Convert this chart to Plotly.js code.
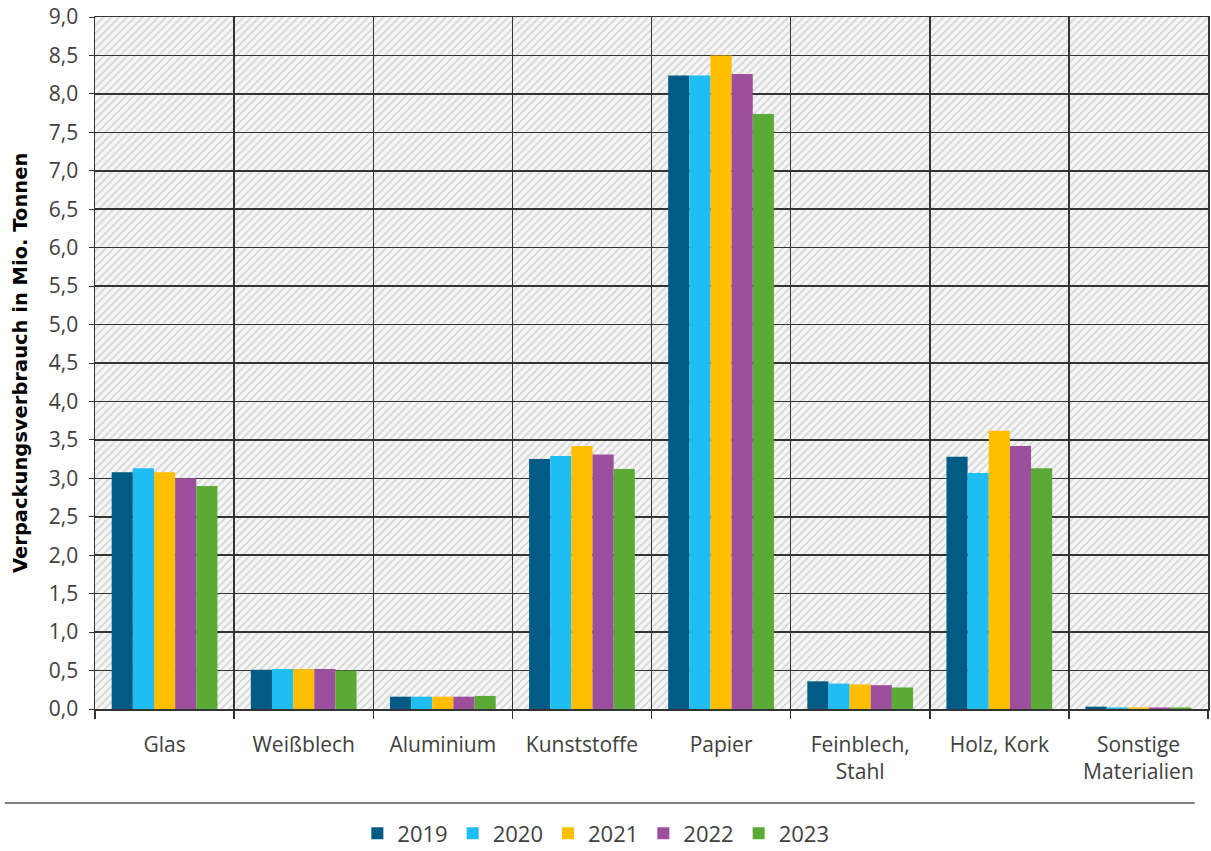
<!DOCTYPE html>
<html>
<head>
<meta charset="utf-8">
<script src="https://cdn.plot.ly/plotly-3.0.1.min.js"></script>
<style>
html,body{margin:0;padding:0;background:#fff;}
#chart{width:1211px;height:851px;}
</style>
</head>
<body>
<div id="chart"></div>
<script>
const categories = ["Glas", "Weißblech", "Aluminium", "Kunststoffe", "Papier", "Feinblech,<br>Stahl", "Holz, Kork", "Sonstige<br>Materialien"];
const years = ["2019", "2020", "2021", "2022", "2023"];
const v2019 = [3.08, 0.51, 0.16, 3.25, 8.24, 0.36, 3.28, 0.03];
const v2020 = [3.13, 0.52, 0.16, 3.29, 8.24, 0.33, 3.07, 0.02];
const v2021 = [3.08, 0.52, 0.16, 3.42, 8.50, 0.32, 3.62, 0.02];
const v2022 = [3.00, 0.52, 0.16, 3.31, 8.26, 0.31, 3.42, 0.02];
const v2023 = [2.90, 0.50, 0.17, 3.12, 7.74, 0.28, 3.13, 0.02];
const series = [v2019, v2020, v2021, v2022, v2023];
const colors = ["#015b84", "#1ebef2", "#ffbf00", "#9c4f9d", "#5aaa35"];
const yTitle = "Verpackungsverbrauch in Mio. Tonnen";

const M = {l: 95, r: 3, t: 17, b: 142, autoexpand: false};
const PW = 1211 - M.l - M.r, PH = 851 - M.t - M.b;

const hatchSvg = `<svg xmlns="http://www.w3.org/2000/svg" width="${PW}" height="${PH}">
<defs><pattern id="h" width="5.5" height="5.5" patternUnits="userSpaceOnUse" patternTransform="rotate(45)">
<rect width="5.5" height="5.5" fill="#f5f5f5"/><rect width="1.6" height="5.5" fill="#d4d4d4"/></pattern></defs>
<rect width="${PW}" height="${PH}" fill="url(#h)"/></svg>`;
const hatchUri = "data:image/svg+xml;base64," + btoa(hatchSvg);

const font = "'Open Sans', sans-serif";

const traces = years.map((y, i) => ({
  type: "bar",
  name: y,
  x: categories,
  y: series[i],
  marker: {color: colors[i], line: {width: 0}},
  hoverinfo: "x+y+name"
}));

const layout = {
  width: 1211, height: 851,
  margin: M,
  paper_bgcolor: "#ffffff",
  plot_bgcolor: "rgba(0,0,0,0)",
  separators: ",.",
  barmode: "group",
  bargap: 0.24,
  bargroupgap: 0,
  font: {family: font, size: 21, color: "#404040"},
  images: [{
    source: hatchUri, xref: "paper", yref: "paper",
    x: 0, y: 1, sizex: 1, sizey: 1, sizing: "stretch",
    xanchor: "left", yanchor: "top", layer: "below"
  }],
  xaxis: {
    type: "category",
    tickson: "boundaries",
    showgrid: true, gridcolor: "#333333", gridwidth: 1.5,
    ticks: "outside", ticklen: 8, tickwidth: 1.5, tickcolor: "#333333",
    showline: true, linecolor: "#333333", linewidth: 1.5,
    mirror: true,
    ticklabelstandoff: 16,
    tickfont: {family: font, size: 21, color: "#404040"},
    automargin: false
  },
  yaxis: {
    range: [0, 9], dtick: 0.5, tick0: 0, tickformat: ".1f",
    showgrid: true, gridcolor: "#333333", gridwidth: 1.5,
    zeroline: false,
    showline: true, linecolor: "#333333", linewidth: 1.5,
    mirror: true,
    ticks: "outside", ticklen: 5, tickcolor: "#333333",
    ticklabelstandoff: 6,
    tickfont: {family: font, size: 21, color: "#404040"},
    automargin: false
  },
  annotations: [{
    text: "<b>" + yTitle + "</b>", textangle: -90,
    xref: "paper", yref: "paper", x: -0.0674, y: 0.5,
    xanchor: "center", yanchor: "middle", showarrow: false,
    font: {family: "'DejaVu Sans', sans-serif", size: 19.5, color: "#000"}
  }],
  legend: {
    orientation: "h", x: 0.45, xanchor: "center", y: -0.18, yanchor: "middle",
    font: {family: font, size: 22, color: "#404040"},
    tracegroupgap: 0, traceorder: "normal"
  },
  shapes: [{
    type: "line", xref: "paper", yref: "paper",
    x0: -0.081, x1: 0.988, y0: -0.136, y1: -0.136,
    line: {color: "#7f7f7f", width: 2}
  }],
  showlegend: true
};

Plotly.newPlot("chart", traces, layout, {displayModeBar: false, staticPlot: true});
</script>
</body>
</html>
